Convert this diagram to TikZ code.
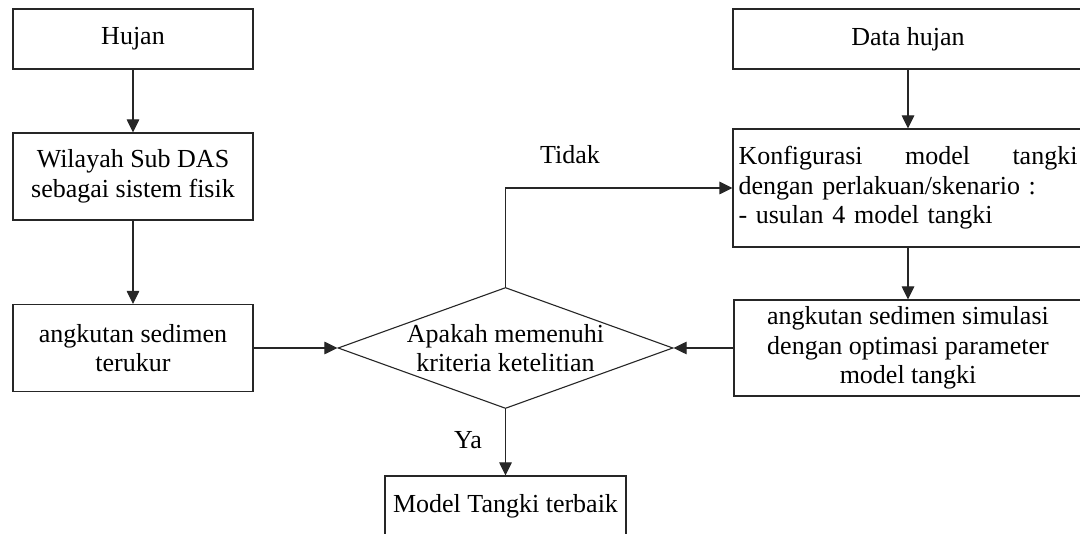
\documentclass[tikz,border=0pt]{standalone}
\usepackage{fontspec}
\setmainfont{Liberation Serif}
\usetikzlibrary{shapes.geometric,arrows.meta}
\begin{document}
\begin{tikzpicture}[x=1pt,y=-1pt,
  every node/.style={font=\fontsize{26}{29.5}\selectfont},
  box/.style={draw=black!85, line width=1.1pt, inner sep=0pt, align=center},
  arr/.style={draw=black!85, line width=1.1pt, -{Triangle[length=13pt,width=12.5pt]}}]
\useasboundingbox (0,0) rectangle (1080,534);
\clip (0,0) rectangle (1080,534);
\fill[white] (0,0) rectangle (1080,534);

% left column
\node[box, minimum width=240pt, minimum height=60pt] (hujan) at (133,39) {Hujan};
\node[box, minimum width=240pt, minimum height=87pt] (wilayah) at (133,176.5) {Wilayah Sub DAS\\sebagai sistem fisik};
\node[box, minimum width=240pt, minimum height=87pt] (terukur) at (133,348) {angkutan sedimen\\terukur};

% decision
\node[draw=black!85, line width=1.1pt, diamond, aspect=2.77, inner sep=0pt,
      minimum width=335pt, minimum height=121pt,
      label={[align=center]center:Apakah memenuhi\\kriteria ketelitian}] (dia) at (505.5,348) {};

% right column
\node[box, minimum width=350pt, minimum height=60pt] (datahujan) at (908,39) {Data hujan};
\node[box, minimum width=350pt, minimum height=118pt, text width=339pt, align=left, inner xsep=5.5pt] (konfig) at (908,188)
  {Konfigurasi\hfill model\hfill tangki\\dengan perlakuan/skenario :\\- usulan 4 model tangki};
\node[box, minimum width=348pt, minimum height=96pt] (sim) at (908,348) {angkutan sedimen simulasi\\dengan optimasi parameter\\model tangki};

% result
\node[box, minimum width=241pt, minimum height=60pt] (best) at (505.5,506) {Model Tangki terbaik};

% labels
\node (tidak) at (570,155) {Tidak};
\node (ya) at (468,440) {Ya};

% connectors
\draw[arr] (hujan) -- (wilayah);
\draw[arr] (wilayah) -- (terukur);
\draw[arr] (terukur) -- (dia);
\draw[arr] (datahujan) -- (konfig);
\draw[arr] (konfig) -- (sim);
\draw[arr] (sim) -- (dia);
\draw[arr] (dia.north) |- (konfig.west);
\draw[arr] (dia) -- (best);
\end{tikzpicture}
\end{document}
